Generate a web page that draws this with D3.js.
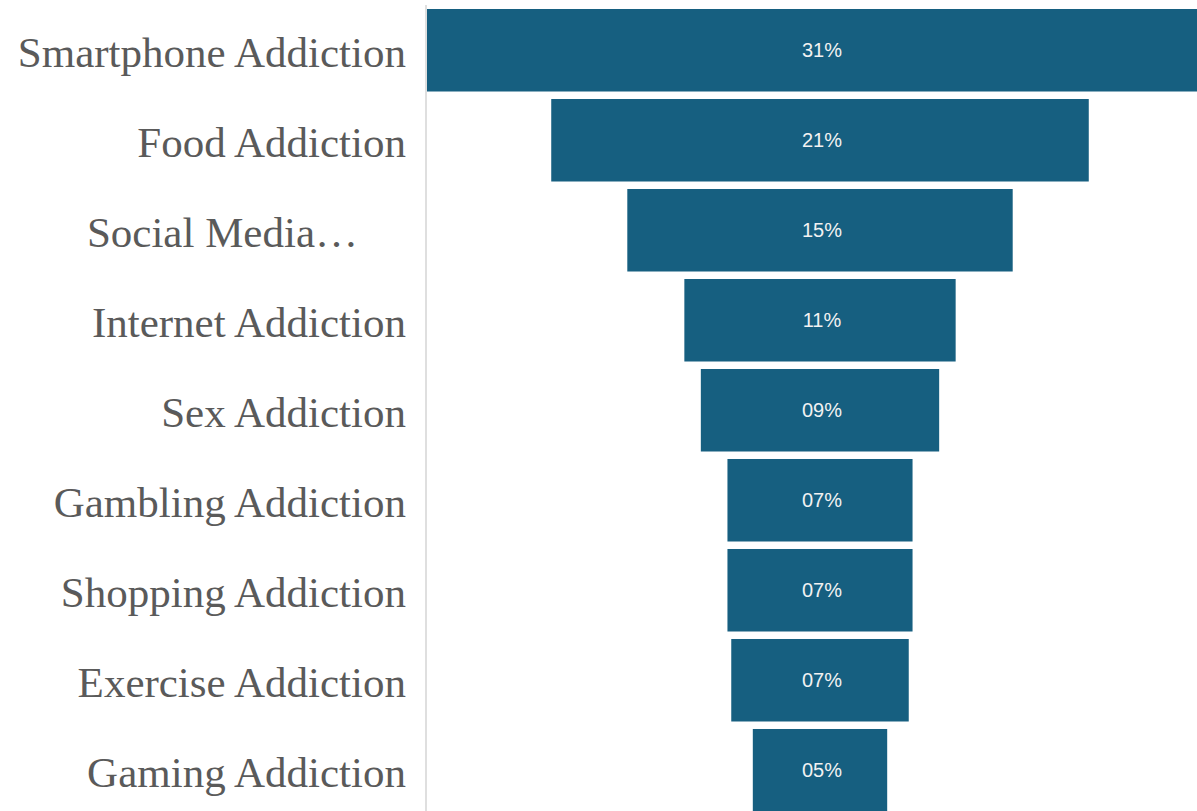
<!DOCTYPE html>
<html>
<head>
<meta charset="utf-8">
<script src="https://cdn.jsdelivr.net/npm/d3@7"></script>
<style>
  html, body { margin: 0; padding: 0; background: #fff; }
  svg { display: block; }
</style>
</head>
<body>
<div id="chart"></div>
<script>
// addiction categories, top to bottom
var categories = ["Smartphone Addiction", "Food Addiction", "Social Media Addiction",
  "Internet Addiction", "Sex Addiction", "Gambling Addiction",
  "Shopping Addiction", "Exercise Addiction", "Gaming Addiction"];
// share in percent
var shares = [31, 21.2, 15.2, 10.7, 9.4, 7.3, 7.3, 7.0, 5.3];
// what the axis shows for each row (long names get cut)
var axisLabels = ["Smartphone Addiction", "Food Addiction", "Social Media\u2026",
  "Internet Addiction", "Sex Addiction", "Gambling Addiction",
  "Shopping Addiction", "Exercise Addiction", "Gaming Addiction"];

var width = 1197, height = 811;
var axisX = 426, center = 820;

var svg = d3.select("#chart").append("svg")
  .attr("width", width)
  .attr("height", height);

var y = d3.scaleBand()
  .domain(categories)
  .range([4, 816.5])
  .paddingInner(0.0833)
  .paddingOuter(0.0556);

var w = d3.scaleLinear()
  .domain([0, 31])
  .range([0, 786]);

var fmt = d3.format("02.0f");

// bars, centred on one line
svg.append("g").selectAll("rect")
  .data(shares)
  .enter()
  .append("rect")
    .attr("x", function(d) { return center - w(d) / 2; })
    .attr("y", function(d, i) { return y(categories[i]); })
    .attr("width", function(d) { return w(d); })
    .attr("height", y.bandwidth())
    .style("fill", "#165f80");

svg.append("g").selectAll("text")
  .data(shares)
  .enter()
  .append("text")
    .attr("x", center + 2)
    .attr("y", function(d, i) { return y(categories[i]) + y.bandwidth() / 2; })
    .attr("dy", "0.36em")
    .attr("text-anchor", "middle")
    .style("font-family", "'Liberation Sans', Arial, sans-serif")
    .style("font-size", "20px")
    .style("fill", "#f2f2f2")
    .text(function(d) { return fmt(d) + "%"; });

// left axis: just the line and the names
svg.append("line")
  .attr("x1", axisX).attr("x2", axisX)
  .attr("y1", 5).attr("y2", height)
  .style("stroke", "#d4d4d4")
  .style("stroke-width", 1.5);

svg.append("g").selectAll("text")
  .data(axisLabels)
  .enter()
  .append("text")
    .attr("x", function(d) { return d.indexOf("\u2026") >= 0 ? 358 : 406; })
    .attr("y", function(d, i) { return y(categories[i]) + y.bandwidth() / 2; })
    .attr("dy", "0.38em")
    .attr("text-anchor", "end")
    .style("font-family", "'Liberation Serif', 'Times New Roman', serif")
    .style("font-size", "43px")
    .style("fill", "#5a5a5a")
    .text(function(d) { return d; });
</script>
</body>
</html>
